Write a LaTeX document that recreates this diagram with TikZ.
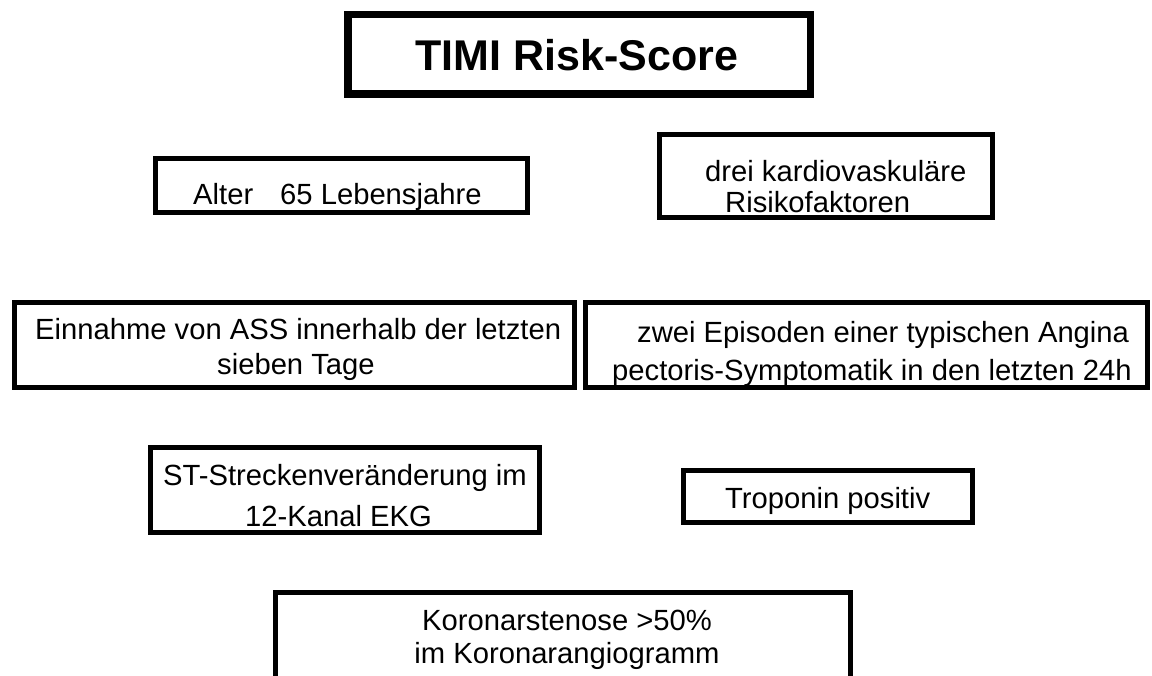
\documentclass[tikz,border=0pt]{standalone}
\usepackage{fontspec}
\setmainfont{Liberation Sans}
\usetikzlibrary{positioning}

\begin{document}
\begin{tikzpicture}[x=1pt, y=-1pt,
  every node/.style={font=\fontsize{29.2}{34}\selectfont, inner sep=0pt},
  line/.style={anchor=base west},
  frame/.style={draw, line width=5pt}]
\useasboundingbox (0,0) rectangle (1152,676);
\clip (0,0) rectangle (1152,676);

% texts first, the frames lie over them
\node[anchor=base, font=\fontsize{43}{50}\selectfont\bfseries] (title) at (577,71) {TIMI Risk-Score};
\node[line] (alter) at (193,205) {Alter\hspace{27pt}65 Lebensjahre};
\node[line] (dreiA) at (705,182) {drei kardiovaskuläre};
\node[line] (dreiB) at (725,213) {Risikofaktoren};
\node[line] (assA) at (35,340) {Einnahme von ASS innerhalb der letzten};
\node[line] (assB) at (217,374) {sieben Tage};
\node[line] (anginaA) at (637,343) {zwei Episoden einer typischen Angina};
\node[line] (anginaB) at (612,381) {pectoris-Symptomatik in den letzten 24h};
\node[line] (ekgA) at (163,485) {ST-Streckenveränderung im};
\node[line] (ekgB) at (245,526) {12-Kanal EKG};
\node[line] (trop) at (725,508) {Troponin positiv};
\node[anchor=base] (koroA) at (567,630) {Koronarstenose >50\%};
\node[anchor=base] (koroB) at (567,663) {im Koronarangiogramm};

% frames
\node[frame, line width=7.5pt, minimum width=462.5pt, minimum height=79.5pt] (titlebox) at (579,54.5) {};
\node[frame, minimum width=372pt, minimum height=54pt] (alterbox) at (341.5,185.5) {};
\node[frame, minimum width=333pt, minimum height=83pt] (dreibox) at (826,176) {};
\node[frame, minimum width=560pt, minimum height=85pt] (assbox) at (294.5,345) {};
\node[frame, minimum width=562pt, minimum height=85pt] (anginabox) at (866.5,345) {};
\node[frame, minimum width=389pt, minimum height=85pt] (ekgbox) at (345,490) {};
\node[frame, minimum width=289pt, minimum height=52pt] (tropbox) at (828,496.5) {};
\node[frame, minimum width=575pt, minimum height=108pt] (korobox) at (563,646.5) {};
\end{tikzpicture}
\end{document}
